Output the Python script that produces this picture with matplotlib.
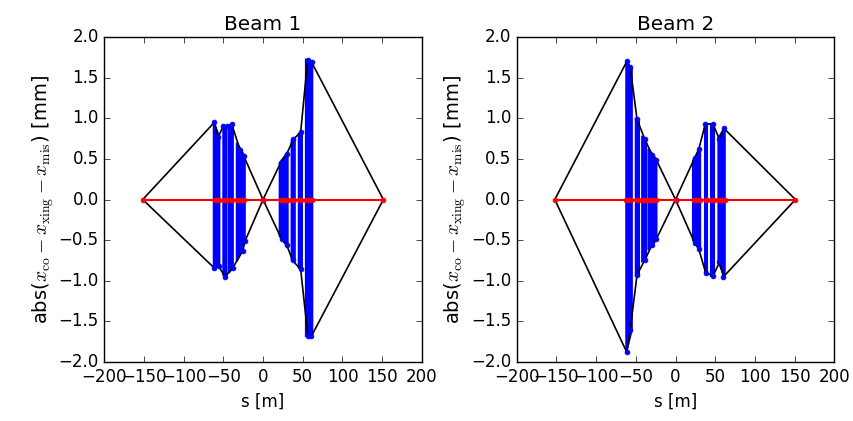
import matplotlib
matplotlib.use("Agg")
import matplotlib.pyplot as plt

plt.style.use('classic')

# envelope vertices: s [m], amplitude [mm]
b1_top_s = [-151.5, -61.3, -56.2, -50, -45, -39.4, -29, -24, 0, 22, 29.8, 38, 47.4, 56.2, 61.2, 151.5]
b1_top_v = [0, 0.95, 0.77, 0.91, 0.90, 0.93, 0.61, 0.53, 0, 0.45, 0.56, 0.74, 0.83, 1.72, 1.69, 0]
b1_bot_s = [-151.5, -61.6, -56, -47.8, -38, -25.5, -22.6, 0, 23.5, 29.8, 37.3, 47.4, 56.5, 61, 151.5]
b1_bot_v = [0, -0.84, -0.82, -0.95, -0.84, -0.63, -0.51, 0, -0.49, -0.56, -0.75, -0.86, -1.68, -1.68, 0]

b2_top_s = [-152, -61.3, -57, -48.5, -39, -29.5, -24.3, 0, 24, 29.3, 37.5, 47.2, 55.3, 60.5, 151]
b2_top_v = [0, 1.70, 1.63, 0.99, 0.75, 0.55, 0.49, 0, 0.51, 0.62, 0.93, 0.93, 0.74, 0.88, 0]
b2_bot_s = [-152, -61.3, -57, -48.5, -39, -29.5, -24.3, 0, 24, 29.3, 38, 47.4, 55.3, 60.4, 151]
b2_bot_v = [0, -1.88, -1.60, -0.93, -0.75, -0.56, -0.49, 0, -0.53, -0.61, -0.90, -0.94, -0.77, -0.95, 0]

# oscillating orbit inside the magnets: (s start, s end, top start, top end, bottom start, bottom end)
b1_blocks = [(-62, -55, 0.95, 0.77, -0.84, -0.82),
             (-50, -46, 0.91, 0.90, -0.93, -0.95),
             (-43, -38, 0.91, 0.92, -0.90, -0.84),
             (-33, -23, 0.70, 0.53, -0.76, -0.51),
             (21, 31, 0.45, 0.58, -0.45, -0.58),
             (36, 40, 0.72, 0.75, -0.74, -0.76),
             (45, 49, 0.81, 0.83, -0.84, -0.86),
             (54, 62, 1.72, 1.69, -1.68, -1.68)]
b2_blocks = [(-62, -55, 1.70, 1.60, -1.88, -1.60),
             (-50, -46, 0.99, 0.97, -0.93, -0.93),
             (-42, -37, 0.77, 0.75, -0.76, -0.74),
             (-34, -24, 0.62, 0.49, -0.62, -0.49),
             (22, 31, 0.48, 0.62, -0.50, -0.62),
             (37, 40, 0.93, 0.93, -0.90, -0.90),
             (45, 49, 0.93, 0.93, -0.94, -0.94),
             (54, 62, 0.76, 0.88, -0.77, -0.95)]

b1_red_s = [-151.5, -61, -58, -55, -49, -46, -42, -39, -33, -30, -27, -24, 0,
            22, 25, 28, 31, 37, 39, 46, 48, 54, 57, 60, 62, 151.5]
b2_red_s = [-152, -62, -59, -56, -49, -46, -41, -38, -34, -31, -28, -25, 0,
            23, 26, 29, 31, 38, 40, 46, 48, 54, 57, 60, 62, 151]

beams = [("Beam 1", b1_top_s, b1_top_v, b1_bot_s, b1_bot_v, b1_blocks, b1_red_s),
         ("Beam 2", b2_top_s, b2_top_v, b2_bot_s, b2_bot_v, b2_blocks, b2_red_s)]

fig = plt.figure(figsize=(8.54, 4.21), dpi=100, facecolor='white')
lefts = [0.122, 0.605]

for left, (title, ts, tv, bs, bv, blocks, red_s) in zip(lefts, beams):
    ax = fig.add_axes([left, 0.140, 0.372, 0.772])
    for s0, s1, t0, t1, l0, l1 in blocks:
        ax.fill([s0, s1, s1, s0], [t0, t1, l1, l0], color='b', lw=1.5, ec='b', zorder=1)
    ax.plot(ts, tv, 'k-', lw=1.2, zorder=2)
    ax.plot(bs, bv, 'k-', lw=1.2, zorder=2)
    ax.plot(ts[1:-1], tv[1:-1], 'bo', ms=3.5, mec='b', zorder=3)
    ax.plot(bs[1:-1], bv[1:-1], 'bo', ms=3.5, mec='b', zorder=3)
    ax.plot(red_s, [0] * len(red_s), 'r-o', lw=1.5, ms=3.5, mec='r', zorder=4)
    ax.set_xlim(-200, 200)
    ax.set_ylim(-2, 2)
    ax.set_xticks(range(-200, 201, 50))
    ax.set_title(title)
    ax.set_xlabel('s [m]')
    ax.set_ylabel(r'abs($x_{\rm co}-x_{\rm xing}-x_{\rm mis}$) [mm]', fontsize=14, labelpad=2)

fig.savefig('out.png', dpi=100, facecolor='white')
